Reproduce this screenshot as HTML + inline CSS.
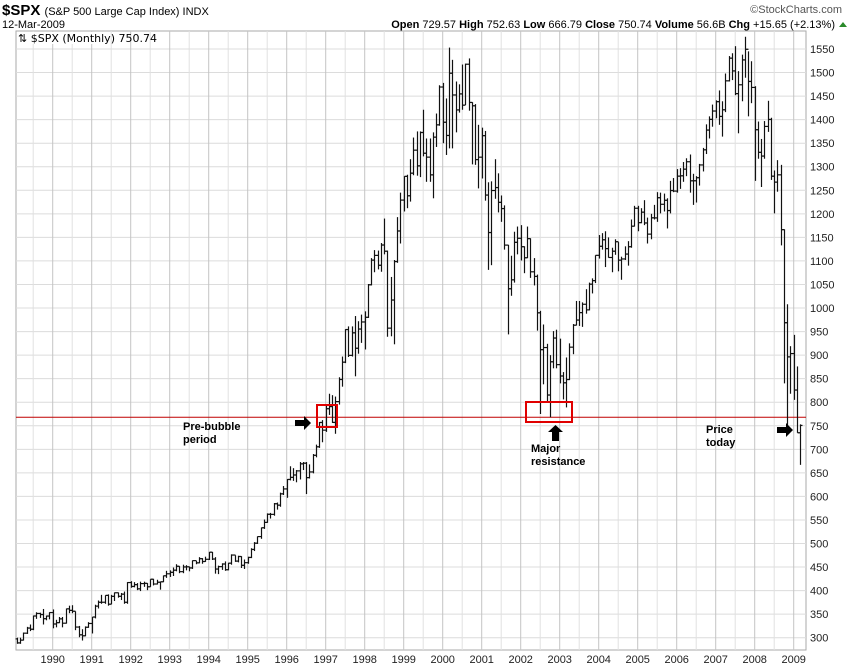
<!DOCTYPE html>
<html><head><meta charset="utf-8">
<style>
body{margin:0;background:#fff;width:850px;height:668px;overflow:hidden;font-family:"Liberation Sans",sans-serif}
svg{position:absolute;left:0;top:0}
</style></head><body>
<svg id="chart" width="850" height="668" viewBox="0 0 850 668" xmlns="http://www.w3.org/2000/svg">
<g id="header" font-family="Liberation Sans, sans-serif">
<text x="2" y="15" font-size="15" font-weight="bold">$SPX <tspan font-size="11" font-weight="normal">(S&amp;P 500 Large Cap Index) INDX</tspan></text>
<text x="2" y="28" font-size="11">12-Mar-2009</text>
<text x="842" y="13" font-size="11" fill="#555" text-anchor="end">©StockCharts.com</text>
<text x="835" y="28" font-size="11" text-anchor="end"><tspan font-weight="bold">Open</tspan> 729.57 <tspan font-weight="bold">High</tspan> 752.63 <tspan font-weight="bold">Low</tspan> 666.79 <tspan font-weight="bold">Close</tspan> 750.74 <tspan font-weight="bold">Volume</tspan> 56.6B <tspan font-weight="bold">Chg</tspan> +15.65 (+2.13%)</text>
<polygon points="839,27 847,27 843,22" fill="#2a8a2a"/>
</g>
<g id="grid"></g>
<g id="yaxis"></g>
<g id="xaxis"></g>
<g id="bars"></g>
<g id="annot"></g>
</svg>
<script>
const years=[1990,1991,1992,1993,1994,1995,1996,1997,1998,1999,2000,2001,2002,2003,2004,2005,2006,2007,2008,2009];
const yTicks=[300,350,400,450,500,550,600,650,700,750,800,850,900,950,1000,1050,1100,1150,1200,1250,1300,1350,1400,1450,1500,1550];
const startYear=1989, startMonth=1; // Feb 1989 (0-based month)
const firstOpen=297.5;
const closes=[288.9,294.9,309.6,320.5,318,346.1,351.5,349.2,340.4,346,353.4,
329.1,331.9,339.9,330.8,361.2,358,356.2,322.6,306.1,304,322.2,330.2,
343.9,367.1,375.2,375.3,389.8,371.2,387.8,395.4,387.9,392.5,375.2,417.1,
408.8,412.7,403.7,414.9,415.4,408.1,424.2,414,417.8,418.7,431.4,435.7,
438.8,443.4,451.7,440.2,450.2,450.5,448.1,463.6,458.9,467.8,461.8,466.5,
481.6,467.1,445.8,450.9,456.5,444.3,458.3,475.5,462.7,472.4,453.7,459.3,
470.4,487.4,500.7,514.7,533.4,544.8,562.1,561.9,584.4,581.5,605.4,615.9,
636,640.4,645.5,654.2,669.1,670.6,639.9,652,687.3,705.3,757,740.7,
786.2,790.8,757.1,801.3,848.3,885.1,954.3,899.5,947.3,914.6,955.4,970.4,
980.3,1049.3,1101.8,1111.8,1090.8,1133.8,1120.7,957.3,1017,1098.7,1163.6,1229.2,
1279.6,1238.3,1286.4,1335.2,1301.8,1372.7,1328.7,1320.4,1282.7,1362.9,1388.9,1469.3,
1394.5,1366.4,1498.6,1452.4,1420.6,1454.6,1430.8,1517.7,1436.5,1429.4,1315.2,1320.3,
1366,1239.9,1160.3,1249.5,1255.8,1224.4,1211.2,1133.6,1040.9,1059.8,1139.5,1148.1,
1130.2,1106.7,1147.4,1076.9,1067.1,989.8,911.6,916.1,815.3,885.8,936.3,879.8,
855.7,841.2,848.2,916.9,963.6,974.5,990.3,1008,996,1050.7,1058.2,1111.9,
1131.1,1144.9,1126.2,1107.3,1120.7,1140.8,1101.7,1104.2,1114.6,1130.2,1173.8,1211.9,
1181.3,1203.6,1180.6,1156.9,1191.5,1191.3,1234.2,1220.3,1228.8,1207,1249.5,1248.3,
1280.1,1280.7,1294.9,1310.6,1270.1,1270.2,1276.7,1303.8,1335.9,1377.9,1400.6,1418.3,
1438.2,1406.8,1420.9,1482.4,1530.6,1503.4,1455.3,1474,1526.8,1549.4,1481.1,1468.4,
1378.6,1330.6,1322.7,1385.6,1400.4,1280,1267.4,1282.8,1166.4,968.8,896.2,903.3,
825.9,735.1,750.74];
const highs=[300,300,311,323,328,347,354,353,361,347,354,
360,338,344,344,362,368,369,356,325,318,324,333,
344,370,379,391,390,392,391,396,396,395,398,418,
420,418,416,419,419,416,424,425,423,419,432,442,
443,449,456,452,455,454,451,464,463,471,469,472,
482,482,471,453,458,462,459,477,475,474,473,466,
472,490,503,515,534,551,564,565,586,587,608,622,
637,664,660,656,673,673,673,668,690,710,758,762,
794,818,815,812,853,897,955,961,961,983,972,986,
993,1051,1106,1123,1122,1138,1190,1122,1066,1102,1193,1245,
1280,1283,1316,1362,1375,1375,1421,1360,1360,1373,1413,1473,
1478,1445,1553,1527,1481,1475,1517,1519,1530,1437,1433,1389,
1383,1376,1267,1269,1316,1286,1239,1218,1134,1111,1162,1173,
1176,1131,1173,1148,1106,1071,994,965,924,900,951,954,
935,864,895,925,966,1015,1015,1012,1040,1054,1063,1112,
1155,1159,1163,1150,1128,1146,1140,1109,1131,1142,1188,1217,
1217,1212,1229,1192,1200,1219,1246,1245,1243,1233,1270,1276,
1295,1297,1310,1318,1326,1285,1280,1306,1340,1390,1407,1432,
1441,1462,1439,1498,1535,1541,1556,1503,1538,1576,1545,1524,
1471,1396,1359,1397,1440,1404,1292,1314,1304,1167,1008,919,
943,876,753];
const lows=[287,287,294,308,314,316,340,342,328,337,339,
320,322,331,322,330,352,352,316,301,294,303,321,
309,341,362,372,372,368,371,378,385,380,372,372,
406,407,401,399,408,401,408,411,413,402,418,427,
429,431,441,437,437,443,441,446,456,458,457,461,
465,465,436,435,444,442,443,455,461,460,448,446,
457,469,484,499,510,531,544,553,559,572,578,603,
597,634,633,630,636,656,605,638,649,683,703,715,
737,773,756,733,795,833,883,896,897,855,903,926,
912,979,1048,1076,1082,1077,1114,939,940,923,1096,1137,
1205,1212,1226,1282,1281,1278,1322,1268,1268,1233,1342,1387,
1350,1325,1339,1339,1373,1415,1421,1431,1419,1305,1304,1254,
1275,1228,1081,1091,1232,1203,1183,1124,944,1026,1054,1114,
1101,1074,1106,1064,1048,952,775,838,800,768,872,872,
840,806,789,847,902,963,962,960,988,995,1031,1053,
1105,1124,1087,1107,1076,1113,1078,1060,1102,1090,1128,1173,
1163,1180,1176,1137,1146,1188,1183,1201,1205,1169,1201,1246,
1245,1253,1268,1280,1245,1219,1224,1260,1290,1327,1360,1385,
1403,1389,1364,1416,1481,1484,1452,1371,1439,1489,1407,1435,
1270,1317,1257,1317,1374,1272,1201,1247,1133,840,741,818,
805,735,667];
const resistanceLevel=768;

const NS="http://www.w3.org/2000/svg";
const L=16,R=806,T=31,B=650;
const yPx=p=>637.7-(p-300)*(637.7-49)/1250;
const xMonth=m=>793.7-(2009-startYear)*39+ (m)*3.25; // m = months since Jan startYear
const xYear=y=>xMonth((y-startYear)*12);
function mk(tag,attrs,parent){const e=document.createElementNS(NS,tag);for(const k in attrs)e.setAttribute(k,attrs[k]);parent.appendChild(e);return e;}
const grid=document.getElementById('grid'),yax=document.getElementById('yaxis'),xax=document.getElementById('xaxis'),bars=document.getElementById('bars'),ann=document.getElementById('annot');
let bg=mk('rect',{x:L,y:T,width:R-L,height:B-T,fill:'#fff',stroke:'#aaa'},grid);


yTicks.forEach(v=>{const y=yPx(v);
 const ln=mk('line',{x1:L,x2:R,y1:y,y2:y,stroke:'#dcdcdc'},grid);
 
 
 const t=mk('text',{x:R+4,y:y+4,'font-size':11,fill:'#222'},yax);t.textContent=v;
 
 
});
for(let y=1989;y<=2009;y++){
 const xh=xYear(y)+19.5;
 if(xh>L&&xh<R){const h=mk('line',{x1:xh,x2:xh,y1:T,y2:B,stroke:'#e0e0e0'},grid);
 
 }
}
years.forEach(yr=>{const x=xYear(yr);
 const ln=mk('line',{x1:x,x2:x,y1:T,y2:B,stroke:'#c4c4c4'},grid);
 
 
 const t=mk('text',{x:x,y:663,'font-size':11,'text-anchor':'middle',fill:'#222'},xax);t.textContent=yr;
 
 
});
const rl=mk('line',{x1:L,x2:R,y1:yPx(resistanceLevel),y2:yPx(resistanceLevel),stroke:'#c00000','stroke-width':1},grid);


closes.forEach((c,i)=>{
 const m=startMonth+i, x=Math.round(xMonth(m))+0.5;
 const o=i===0?firstOpen:closes[i-1];
 const g=mk('g',{stroke:'#111','stroke-width':1.2},bars);
 
 
 mk('line',{x1:x,x2:x,y1:yPx(highs[i]),y2:yPx(lows[i])},g);
 mk('line',{x1:x-2,x2:x,y1:yPx(o),y2:yPx(o)},g);
 mk('line',{x1:x,x2:x+2,y1:yPx(c),y2:yPx(c)},g);
});
</script>
<svg width="850" height="668" viewBox="0 0 850 668" xmlns="http://www.w3.org/2000/svg" style="pointer-events:none">
<rect x="17" y="32" width="86" height="12" fill="#fff"/>
<text x="18" y="42" font-size="11" font-family="DejaVu Sans, sans-serif">⇅ $SPX (Monthly) 750.74</text>
<rect x="317" y="405" width="20" height="22" fill="none" stroke="#e00000" stroke-width="2"/>
<rect x="526" y="402" width="46" height="20" fill="none" stroke="#e00000" stroke-width="2"/>
<polygon points="295,420 304,420 304,416 311,423 304,430 304,426 295,426" fill="#000"/>
<polygon points="552,441 552,432 548,432 555.5,425 563,432 559,432 559,441" fill="#000"/>
<polygon points="777,427 786,427 786,423 793,430 786,437 786,433 777,433" fill="#000"/>
<g font-size="11" font-weight="bold" font-family="Liberation Sans, sans-serif">
<text x="183" y="430">Pre-bubble</text>
<text x="183" y="443">period</text>
<text x="531" y="452">Major</text>
<text x="531" y="465">resistance</text>
<text x="706" y="433">Price</text>
<text x="706" y="446">today</text>
</g>
</svg>
</body></html>
